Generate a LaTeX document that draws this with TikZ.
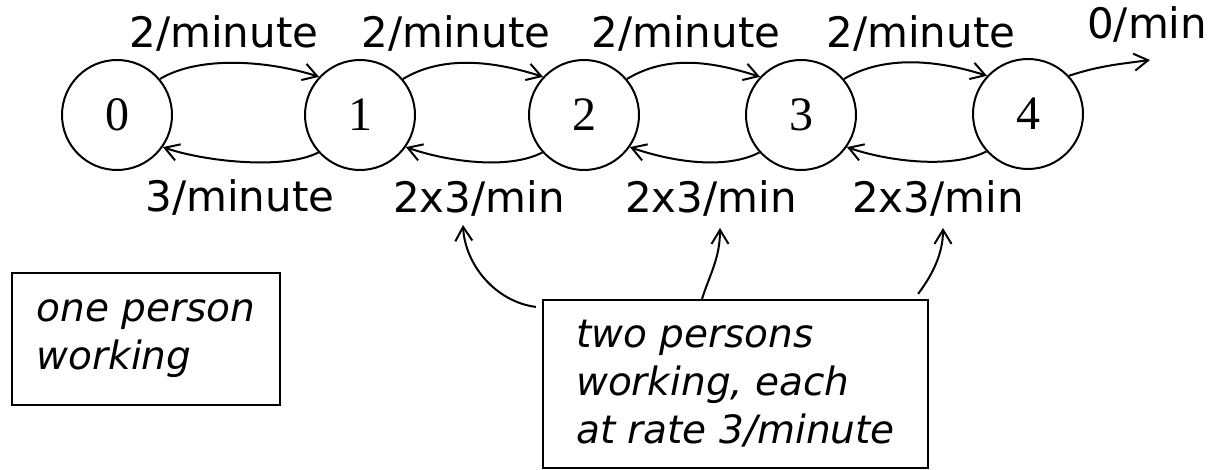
\documentclass[tikz,border=0pt]{standalone}
\usepackage{fontspec}
\setmainfont{DejaVu Sans}
\newfontfamily\digitfont{Liberation Serif}
\usetikzlibrary{arrows.meta}
\tikzset{
  state/.style={circle, draw, line width=2pt, minimum size=110pt, inner sep=0pt,
    font=\digitfont\fontsize{48}{48}\selectfont},
  rate/.style={font=\fontsize{42}{42}\selectfont, inner sep=0pt, anchor=base},
  note/.style={draw, line width=2.2pt, align=left, inner sep=0pt,
    font=\itshape\fontsize{39}{48}\selectfont},
  arr/.style={line width=2pt, -{Straight Barb[length=14pt,width=17pt,line width=2pt]}},
}
\begin{document}
\begin{tikzpicture}[x=1pt,y=1pt]
\useasboundingbox (0,0) rectangle (1219,-470);
% states
\node[state] (c0) at (117,-115) {0};
\node[state] (c1) at (360,-115) {1};
\node[state] (c2) at (584,-115) {2};
\node[state] (c3) at (801,-115) {3};
\node[state] (c4) at (1028,-114) {4};
% arrival rates
\node[rate] (a1) at (224,-48) {2/minute};
\node[rate] (a2) at (456,-48) {2/minute};
\node[rate] (a3) at (686,-48) {2/minute};
\node[rate] (a4) at (921,-48) {2/minute};
\node[rate, anchor=base west] (a5) at (1087,-39) {0/min};
% service rates
\node[rate] (s1) at (240,-212) {3/minute};
\node[rate] (s2) at (479,-213) {2x3/min};
\node[rate] (s3) at (711,-213) {2x3/min};
\node[rate] (s4) at (938,-213) {2x3/min};
% notes
\node[note, minimum width=268pt, minimum height=132pt] (b1) at (146,-339) {one person\\working};
\node[note, minimum width=385pt, minimum height=168pt] (b2) at (735.5,-384) {two persons\\working, each\\at rate 3/minute};
% transitions
\foreach \i/\j in {c0/c1, c1/c2, c2/c3, c3/c4}{
  \draw[arr] (\i.40) .. controls +(40,24) and +(-50,16) .. (\j.137);
  \draw[arr] (\j.222) .. controls +(-35,-18) and +(40,-14) .. (\i.-35);
}
\coordinate (out) at (1150,-60);
\draw[arr] (c4.43) .. controls +(30,10) and +(-30,-4) .. (out);
% pointers
\coordinate (t1) at (463,-225);
\coordinate (t2) at (720,-228);
\coordinate (t3) at (943,-228);
\draw[arr] ([xshift=-6pt,yshift=-8pt]b2.north west) .. controls +(-40,5) and +(2,-40) .. (t1);
\draw[arr] ([xshift=-33.5pt]b2.north) .. controls +(8,25) and +(0,-30) .. (t2);
\draw[arr] ([xshift=-11pt,yshift=5pt]b2.north east) .. controls +(15,20) and +(0,-25) .. (t3);
\end{tikzpicture}
\end{document}
